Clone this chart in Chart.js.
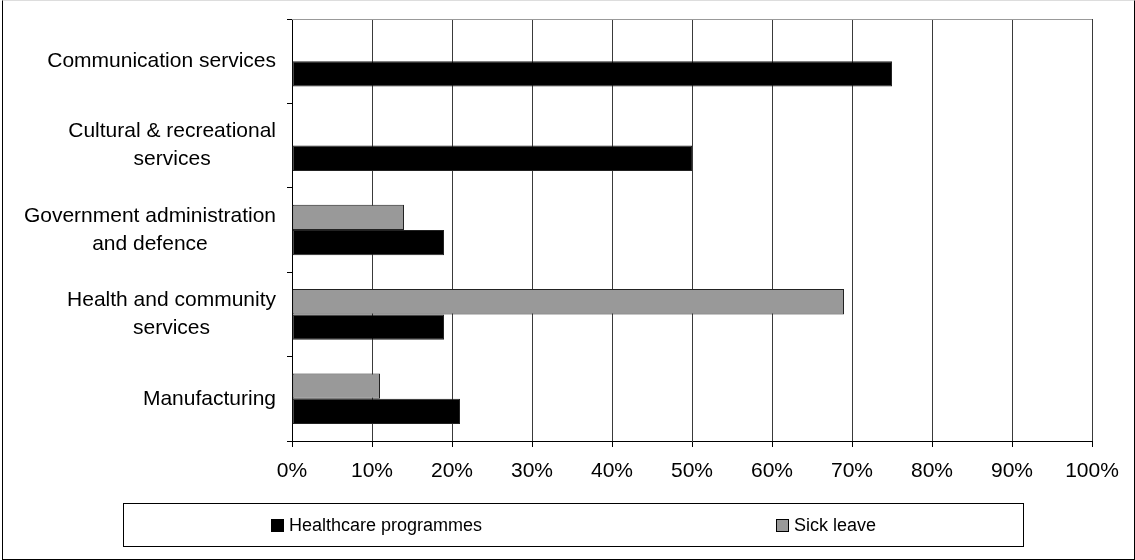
<!DOCTYPE html>
<html>
<head>
<meta charset="utf-8">
<script src="https://cdn.jsdelivr.net/npm/chart.js@4/dist/chart.umd.min.js"></script>
<style>
  body { margin: 0; background: #fff; font-family: "Liberation Sans", Arial, sans-serif; }
  #wrap { position: relative; width: 1135px; height: 560px; }
  #frame { position: absolute; left: 2px; top: 0; width: 1131px; height: 558px;
    border: 1px solid #000; border-top-color: #ddd; pointer-events: none; }
  #legend { position: absolute; left: 123px; top: 503px; width: 899px; height: 42px;
    border: 1px solid #000; display: flex; justify-content: space-around; align-items: center;
    font-size: 18px; color: #000; }
  #legend .item { display: flex; align-items: center; }
  #legend .box { width: 11px; height: 11px; border: 1px solid #000; margin-right: 5px; }
</style>
</head>
<body>
<div id="wrap">
  <canvas id="MyChart" width="1135" height="560"></canvas>
  <div id="legend"></div>
  <div id="frame"></div>
</div>
<script>
// industries, top to bottom
const categories = [
  ['Communication services'],
  ['Cultural & recreational', 'services'],
  ['Government administration', 'and defence'],
  ['Health and community', 'services'],
  ['Manufacturing']
];
// percent of workplaces offering each benefit
const healthcareProgrammes = [75, 50, 19, 19, 21];
const sickLeave = [null, null, 14, 69, 11];
const xTicks = [0, 10, 20, 30, 40, 50, 60, 70, 80, 90, 100];

// y labels: each block right aligned, its lines centred on each other
const yLabels = {
  id: 'yLabels',
  afterDraw(chart) {
    const ctx = chart.ctx;
    const y = chart.scales.y;
    ctx.save();
    ctx.font = '21px "Liberation Sans", Arial, sans-serif';
    ctx.fillStyle = '#000';
    ctx.textAlign = 'center';
    ctx.textBaseline = 'middle';
    categories.forEach(function (lines, i) {
      var w = 0;
      lines.forEach(function (l) { w = Math.max(w, ctx.measureText(l).width); });
      var cx = 276 - w / 2;
      var cy = y.getPixelForValue(i);
      var lh = 28;
      lines.forEach(function (l, j) {
        ctx.fillText(l, cx, cy + (j - (lines.length - 1) / 2) * lh);
      });
    });
    ctx.restore();
  }
};

// grey line along the top of the plot area
const plotFrame = {
  id: 'plotFrame',
  beforeDatasetsDraw(chart) {
    const a = chart.chartArea;
    const ctx = chart.ctx;
    ctx.save();
    ctx.strokeStyle = '#999';
    ctx.lineWidth = 1;
    ctx.beginPath();
    ctx.moveTo(a.left, Math.round(a.top) + 0.5);
    ctx.lineTo(a.right, Math.round(a.top) + 0.5);
    ctx.stroke();
    ctx.restore();
  }
};

const data = {
  labels: categories,
  datasets: [{
    label: 'Sick leave',
    data: sickLeave,
    backgroundColor: '#999999',
    borderColor: '#222',
    borderWidth: 1,
    borderSkipped: false
  }, {
    label: 'Healthcare programmes',
    data: healthcareProgrammes,
    backgroundColor: '#000000',
    borderColor: '#222',
    borderWidth: 1,
    borderSkipped: false
  }]
};

const config = {
  type: 'bar',
  data: data,
  options: {
    indexAxis: 'y',
    responsive: false,
    animation: false,
    layout: { padding: { left: 0, right: 43, top: 19, bottom: 69 } },
    categoryPercentage: 0.6,
    barPercentage: 1.0,
    plugins: {
      legend: { display: false },
      tooltip: { enabled: false }
    },
    scales: {
      x: {
        min: 0,
        max: 100,
        afterBuildTicks: function (s) { s.ticks = xTicks.map(function (v) { return { value: v }; }); },
        afterFit: function (s) { s.height = 50; },
        grid: { color: '#3a3a3a', lineWidth: 1, tickLength: 6, tickColor: '#000' },
        border: { color: '#000' },
        ticks: {
          padding: 12,
          color: '#000',
          font: { family: '"Liberation Sans", Arial, sans-serif', size: 21 },
          callback: function (v) { return v + '%'; }
        }
      },
      y: {
        afterFit: function (s) { s.width = 292; },
        grid: { offset: true, drawOnChartArea: false, tickLength: 5, color: '#000' },
        border: { color: '#000' },
        ticks: { display: false }
      }
    }
  },
  plugins: [yLabels, plotFrame]
};

const myChart = new Chart(document.getElementById('MyChart'), config);

// legend shown in data order reversed (healthcare first)
var legend = document.getElementById('legend');
data.datasets.slice().reverse().forEach(function (ds) {
  var item = document.createElement('div');
  item.className = 'item';
  var box = document.createElement('span');
  box.className = 'box';
  box.style.background = ds.backgroundColor;
  item.appendChild(box);
  item.appendChild(document.createTextNode(ds.label));
  legend.appendChild(item);
});
</script>
</body>
</html>
